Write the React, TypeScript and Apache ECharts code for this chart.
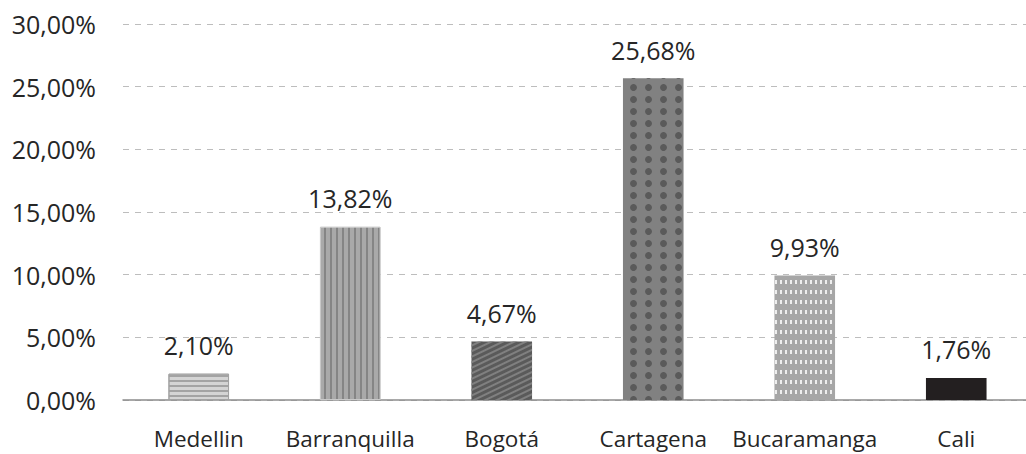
import React, { useEffect, useRef } from "react";
import * as echarts from "echarts";

const categories = ["Medellin", "Barranquilla", "Bogotá", "Cartagena", "Bucaramanga", "Cali"];
const values = [2.1, 13.82, 4.67, 25.68, 9.93, 1.76];
const yTicks = { min: 0, max: 30, interval: 5 };

const FONT = "'Open Sans', 'Noto Sans', sans-serif";
const TXT = "#262626";

const styles: any[] = [
  { color: "#d4d4d4", borderColor: "#a3a3a3", borderWidth: 1, decal: { symbol: "rect", color: "#a3a3a3", dashArrayX: [1, 0], dashArrayY: [2, 3], rotation: 0 } },
  { color: "#a9a9a9", borderColor: "#c8c8c8", borderWidth: 1, decal: { symbol: "rect", color: "#858585", dashArrayX: [2, 4], dashArrayY: [1, 0], rotation: 0 } },
  { color: "#5a5a5a", decal: { symbol: "rect", color: "#808080", dashArrayX: [1, 0], dashArrayY: [2, 3], rotation: -Math.PI / 7 } },
  { color: "#818181", decal: { symbol: "circle", symbolSize: 1, color: "#5a5a5a", dashArrayX: [7, 8], dashArrayY: [7, 4.5], rotation: 0 } },
  { color: "#a6a6a6", decal: { symbol: "rect", symbolSize: 1, color: "#eeeeee", dashArrayX: [1.5, 2.5], dashArrayY: [4, 6], rotation: 0 } },
  { color: "#231f20" },
];

const fmt = (v: number) => v.toFixed(2).replace(".", ",") + "%";

export default function App() {
  const ref = useRef<HTMLDivElement>(null);
  useEffect(() => {
    const chart = echarts.init(ref.current!, null, { renderer: "svg" });
    chart.setOption({
      animation: false,
      grid: { left: 123, top: 24, right: 8, bottom: 54 },
      xAxis: {
        type: "category",
        data: categories,
        axisLine: { lineStyle: { color: "#8c8c8c", width: 1.5 } },
        axisTick: { show: false },
        axisLabel: { color: TXT, fontSize: 22.5, fontFamily: FONT, margin: 27, interval: 0 },
      },
      yAxis: {
        type: "value",
        min: yTicks.min,
        max: yTicks.max,
        interval: yTicks.interval,
        axisLine: { show: false },
        axisTick: { show: false },
        axisLabel: { color: TXT, fontSize: 25, fontFamily: FONT, margin: 27, formatter: (v: number) => fmt(v) },
        splitLine: { lineStyle: { color: "#bdbdbd", type: [6, 6], width: 1 } },
      },
      series: [
        {
          type: "bar",
          barWidth: "40%",
          data: values.map((v, i) => ({ value: v, itemStyle: styles[i] })),
          label: {
            show: true,
            position: "top",
            distance: 16,
            color: TXT,
            fontSize: 25,
            fontFamily: FONT,
            formatter: (p: any) => fmt(p.value),
          },
        },
      ],
    });
    return () => chart.dispose();
  }, []);
  return (
    <div style={{ width: 1026, height: 454, position: "absolute", left: 0, top: 0, overflow: "hidden" }}>
      <div ref={ref} style={{ width: 1040, height: 454 }} />
    </div>
  );
}
